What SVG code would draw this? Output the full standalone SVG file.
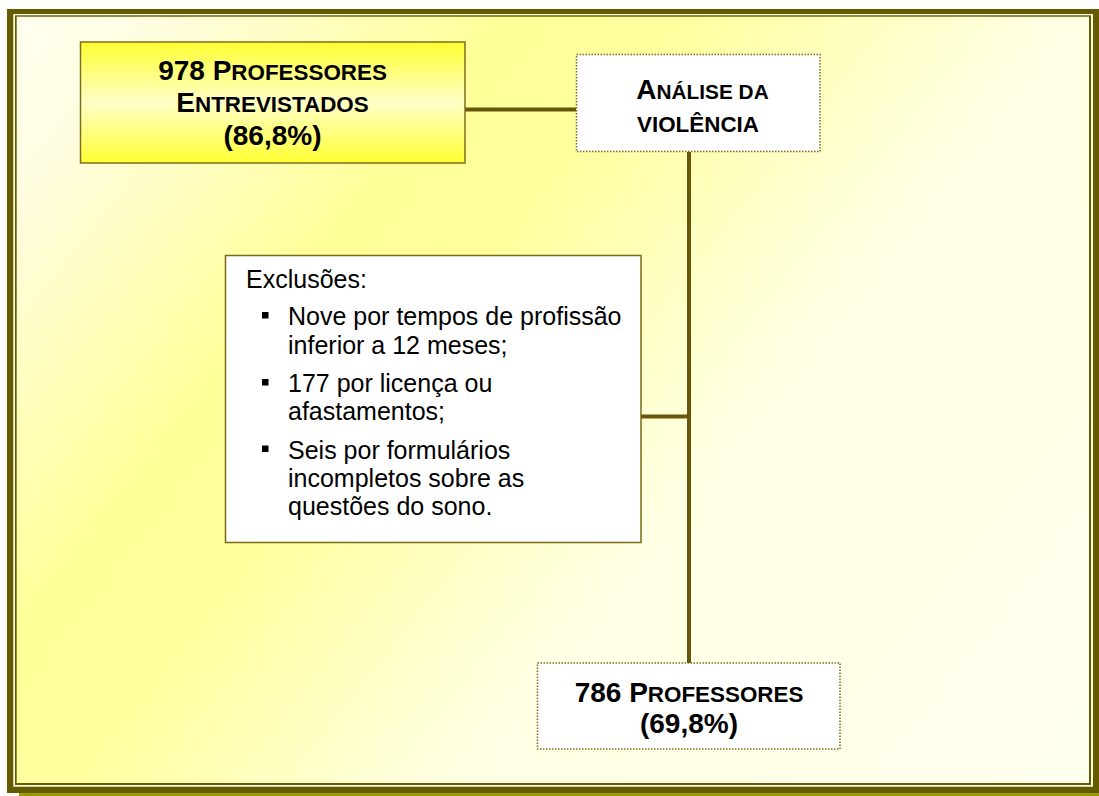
<svg xmlns="http://www.w3.org/2000/svg" width="1099" height="796" viewBox="0 0 1099 796">
  <defs>
    <linearGradient id="bg" gradientUnits="userSpaceOnUse" x1="0" y1="0" x2="1062" y2="844">
      <stop offset="0" stop-color="#fffff2"/>
      <stop offset="0.1" stop-color="#fffde0"/>
      <stop offset="0.3" stop-color="#ffff99"/>
      <stop offset="0.4" stop-color="#ffff9e"/>
      <stop offset="0.62" stop-color="#ffffe4"/>
      <stop offset="1" stop-color="#ffffee"/>
    </linearGradient>
    <linearGradient id="yel" x1="0" y1="0" x2="0" y2="1">
      <stop offset="0" stop-color="#ffff33"/>
      <stop offset="0.5" stop-color="#ffffc8"/>
      <stop offset="1" stop-color="#ffff33"/>
    </linearGradient>
    <style>
      .t { font-family: "Liberation Sans", Arial, sans-serif; fill: #000; }
      .b { font-weight: bold; font-size: 28px; }
      .sc { font-size: 22.4px; }
      .r { font-size: 25px; }
      .dot { fill: #ffffff; stroke: #7d6d1c; stroke-width: 1.5; stroke-dasharray: 1.5 1.5; }
      .conn { stroke: #66570a; stroke-width: 4; fill: none; }
    </style>
  </defs>

  <!-- page -->
  <rect x="0" y="0" width="1099" height="796" fill="#ffffff"/>
  <rect x="19" y="793" width="1080" height="3" fill="#999900"/>
  <rect x="7" y="9" width="1093" height="784" fill="#665a00"/>
  <rect x="13.3" y="14" width="1079.7" height="772.7" fill="#ffffe6"/>
  <rect x="15" y="15.3" width="1076" height="769.7" fill="#665a00"/>
  <rect x="16.7" y="16.7" width="1072.3" height="766.3" fill="url(#bg)"/>

  <!-- connectors -->
  <g id="connectors">
    <line class="conn" x1="465" y1="109.5" x2="576" y2="109.5"/>
    <line class="conn" x1="689" y1="152" x2="689" y2="663"/>
    <line class="conn" x1="641" y1="416.5" x2="689" y2="416.5"/>
  </g>

  <!-- node 1 -->
  <g id="node-entrevistados">
    <rect x="80.5" y="42" width="384.5" height="121" fill="url(#yel)" stroke="#7d6d1c" stroke-width="1.5"/>
    <text class="t b" text-anchor="middle" x="272.5" y="79.5">978 P<tspan class="sc">ROFESSORES</tspan></text>
    <text class="t b" text-anchor="middle" x="272.5" y="112">E<tspan class="sc">NTREVISTADOS</tspan></text>
    <text class="t b" text-anchor="middle" x="272.5" y="144.5">(86,8%)</text>
  </g>

  <!-- node 2 -->
  <g id="node-analise">
    <rect class="dot" x="576.5" y="54.5" width="243.5" height="97"/>
    <text class="t b" text-anchor="middle" x="702.5" y="98.5" font-size="27">A<tspan font-size="20.8">NÁLISE DA</tspan></text>
    <text class="t b sc" text-anchor="middle" x="698" y="131.5">VIOLÊNCIA</text>
  </g>

  <!-- node 3 -->
  <g id="node-exclusoes">
    <rect x="225.5" y="255.5" width="415.5" height="287" fill="#ffffff" stroke="#7a6a12" stroke-width="1.5"/>
    <text class="t r" x="246" y="288">Exclusões:</text>
    <rect x="262" y="312" width="6.5" height="6.5" fill="#000"/>
    <rect x="262" y="379" width="6.5" height="6.5" fill="#000"/>
    <rect x="262" y="445.5" width="6.5" height="6.5" fill="#000"/>
    <text class="t r" x="288" y="325">Nove por tempos de profissão</text>
    <text class="t r" x="288" y="353.5">inferior a 12 meses;</text>
    <text class="t r" x="288" y="391.5">177 por licença ou</text>
    <text class="t r" x="288" y="420">afastamentos;</text>
    <text class="t r" x="288" y="458.5">Seis por formulários</text>
    <text class="t r" x="288" y="487">incompletos sobre as</text>
    <text class="t r" x="288" y="515">questões do sono.</text>
  </g>

  <!-- node 4 -->
  <g id="node-786">
    <rect class="dot" x="537.5" y="663" width="302.5" height="86"/>
    <text class="t b" text-anchor="middle" x="689" y="701.5">786 P<tspan class="sc">ROFESSORES</tspan></text>
    <text class="t b" text-anchor="middle" x="689" y="733">(69,8%)</text>
  </g>
</svg>
